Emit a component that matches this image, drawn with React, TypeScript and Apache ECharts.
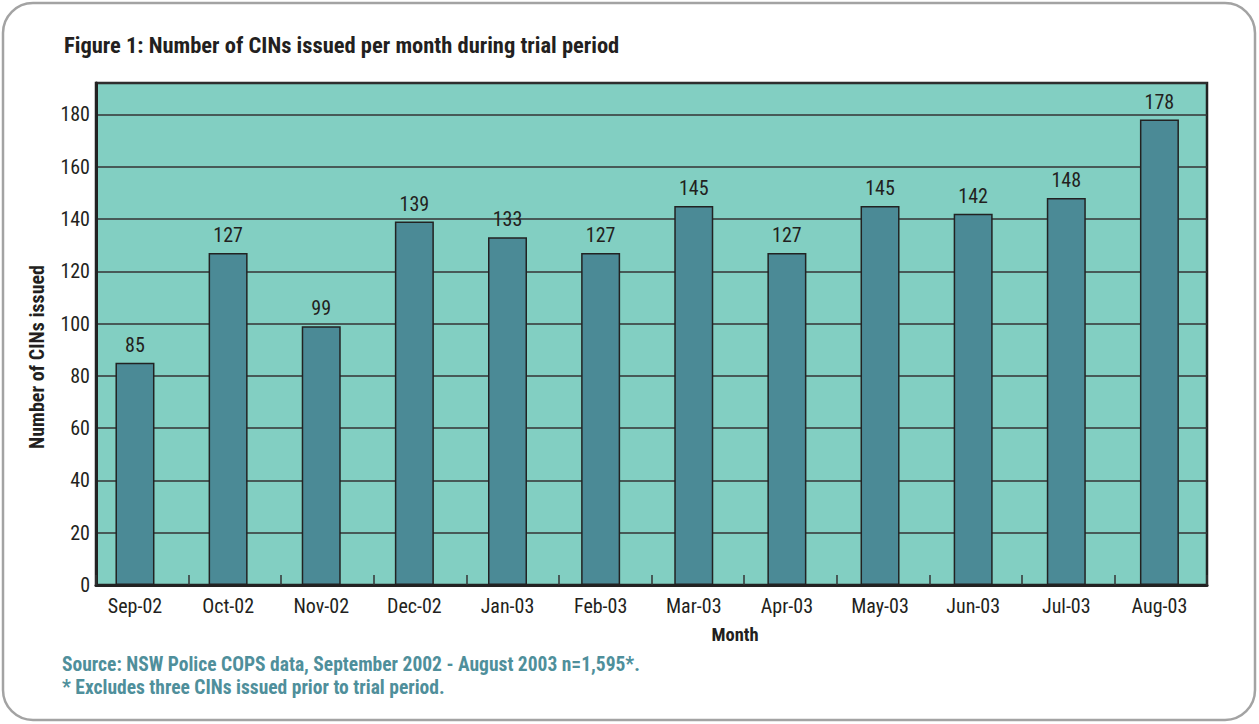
import React, { useEffect, useRef } from "react";
import * as echarts from "echarts";

const months = ["Sep-02", "Oct-02", "Nov-02", "Dec-02", "Jan-03", "Feb-03", "Mar-03", "Apr-03", "May-03", "Jun-03", "Jul-03", "Aug-03"];
const cinsIssued = [85, 127, 99, 139, 133, 127, 145, 127, 145, 142, 148, 178];

const titleText = "Figure 1: Number of CINs issued per month during trial period";
const yAxisTitle = "Number of CINs issued";
const xAxisTitle = "Month";
const sourceLine = "Source: NSW Police COPS data, September 2002 - August 2003 n=1,595*.";
const noteLine = "* Excludes three CINs issued prior to trial period.";

const FONT = '"Liberation Sans Narrow", "Roboto Condensed", "DejaVu Sans Condensed", "Liberation Sans", sans-serif';

export default function App() {
  const ref = useRef<HTMLDivElement>(null);
  useEffect(() => {
    document.body.style.margin = "0";
    const chart = echarts.init(ref.current!, null, { renderer: "svg" });
    chart.setOption({
      animation: false,
      backgroundColor: "#ffffff",
      textStyle: { fontFamily: FONT },
      grid: [
        {
          left: 96,
          right: 52,
          top: 83,
          bottom: 139,
          show: true,
          backgroundColor: "#82cfc2",
          borderColor: "#222222",
          borderWidth: 2.5,
          containLabel: false,
        },
        {
          left: 88.4,
          right: 53,
          top: 83,
          bottom: 139,
          show: false,
          containLabel: false,
        },
      ],
      graphic: [
        {
          type: "rect",
          z: -10,
          shape: { x: 3, y: 3, width: 1252, height: 717, r: 30 },
          style: { fill: "#ffffff", stroke: "#a3a3a3", lineWidth: 2.5 },
        },
        {
          type: "text",
          left: 64,
          top: 33,
          style: { text: titleText, font: `bold 22.5px ${FONT}`, fill: "#231f20" },
        },
        {
          type: "text",
          x: 37,
          y: 357,
          rotation: Math.PI / 2,
          style: { text: yAxisTitle, font: `bold 20px ${FONT}`, fill: "#231f20", align: "center", verticalAlign: "middle" },
        },
        {
          type: "text",
          x: 735,
          y: 635,
          style: { text: xAxisTitle, font: `bold 18.5px ${FONT}`, fill: "#231f20", align: "center", verticalAlign: "middle" },
        },
        {
          type: "text",
          left: 62,
          top: 654,
          style: { text: sourceLine, font: `bold 19.5px ${FONT}`, fill: "#4f8f9b" },
        },
        {
          type: "text",
          left: 62,
          top: 677,
          style: { text: noteLine, font: `bold 19.5px ${FONT}`, fill: "#4f8f9b" },
        },
      ],
      xAxis: [
        {
          type: "category",
          gridIndex: 0,
          data: months,
          axisLine: { show: true, lineStyle: { color: "#222222", width: 3 } },
          axisTick: { show: true, inside: true, length: 10, lineStyle: { color: "#333333", width: 1.5 } },
          axisLabel: { show: false },
          splitLine: { show: false },
        },
        {
          type: "category",
          gridIndex: 1,
          data: months,
          axisLine: { show: false },
          axisTick: { show: false },
          axisLabel: { color: "#231f20", fontSize: 20, margin: 11, fontFamily: FONT },
          splitLine: { show: false },
        },
      ],
      yAxis: [
        {
          type: "value",
          gridIndex: 0,
          min: 0,
          max: 192,
          interval: 20,
          axisLine: { show: true, lineStyle: { color: "#222222", width: 3 } },
          axisTick: { show: false },
          axisLabel: { color: "#231f20", fontSize: 20, margin: 6, showMaxLabel: false, fontFamily: FONT },
          splitLine: { show: true, lineStyle: { color: "#333333", width: 1.5 } },
        },
        {
          type: "value",
          gridIndex: 1,
          min: 0,
          max: 192,
          interval: 20,
          show: false,
          splitLine: { show: false },
        },
      ],
      series: [
        {
          type: "bar",
          xAxisIndex: 1,
          yAxisIndex: 1,
          data: cinsIssued,
          barWidth: 39,
          z: 3,
          itemStyle: { color: "#4b8a96", borderColor: "#222222", borderWidth: 1.5 },
          label: { show: true, position: "top", distance: 8, color: "#231f20", fontSize: 20, fontFamily: FONT },
        },
      ],
    });
    return () => chart.dispose();
  }, []);
  return <div ref={ref} style={{ width: 1259, height: 724 }} />;
}
